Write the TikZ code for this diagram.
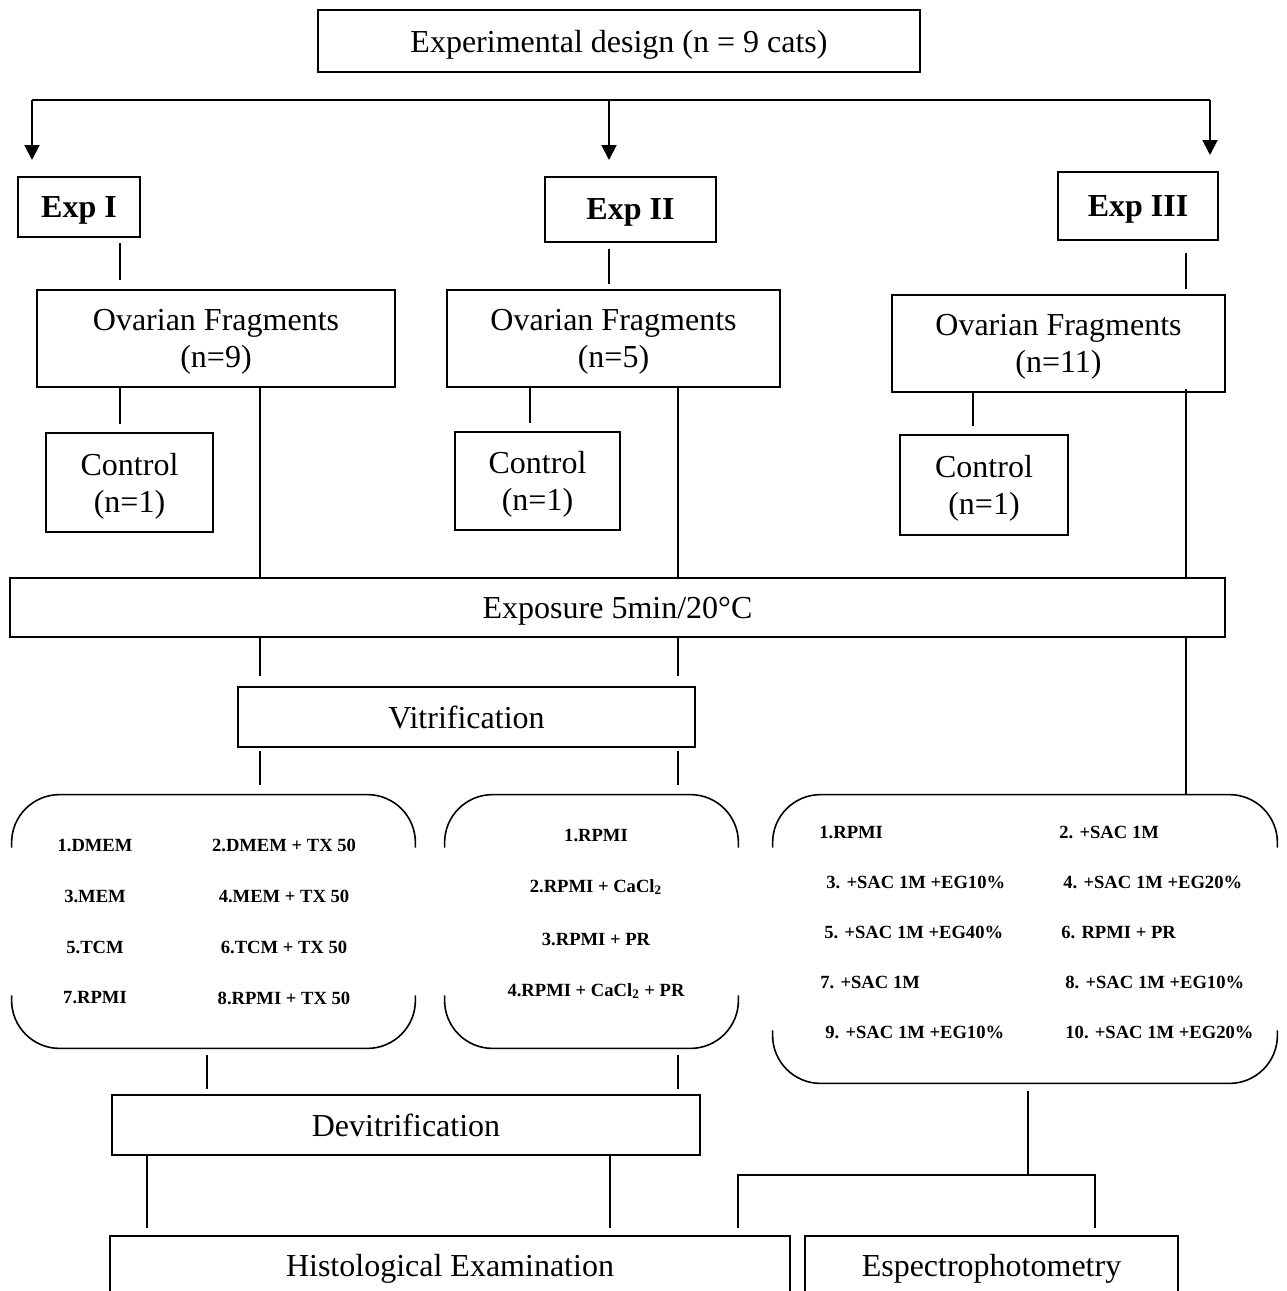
\documentclass[tikz,border=0pt]{standalone}
\usepackage{fontspec}
\setmainfont{Liberation Serif}
\usetikzlibrary{arrows.meta}

\begin{document}
\begin{tikzpicture}[x=0.5pt, y=-0.5pt,
    box/.style={draw, line width=1pt, align=center, inner sep=0pt, text depth=0pt, font=\fontsize{16}{18.5}\selectfont},
    expbox/.style={box, font=\fontsize{16}{18.5}\selectfont\bfseries},
    link/.style={line width=.6pt},
    bar/.style={line width=1pt},
    medbox/.style={inner sep=0pt},
    brk/.style={line width=.8pt, rounded corners=24pt},
    medium/.style={inner sep=0pt, font=\fontsize{9.3}{11}\selectfont\bfseries}]
  \clip (0,0) rectangle (1286,1291);

  \node[box, line width=.7pt, minimum width=301pt, minimum height=31pt] (design) at (619,41) {Experimental design (n = 9 cats)};

  \node[expbox, minimum width=61pt, minimum height=30pt] (exp1) at (79,207) {Exp I};
  \node[expbox, minimum width=85.5pt, minimum height=32.5pt] (exp2) at (630.5,209.5) {Exp II};
  \node[expbox, minimum width=80pt, minimum height=34pt] (exp3) at (1138,206) {Exp III};

  \node[box, minimum width=179pt, minimum height=48.5pt] (of1) at (216,338.5) {Ovarian Fragments\\(n=9)};
  \node[box, minimum width=166.5pt, minimum height=48.5pt] (of2) at (613.5,338.5) {Ovarian Fragments\\(n=5)};
  \node[box, minimum width=166.5pt, minimum height=48.5pt] (of3) at (1058.5,343.5) {Ovarian Fragments\\(n=11)};

  \node[box, minimum width=83.5pt, minimum height=49.5pt] (ctl1) at (129.5,482.5) {Control\\(n=1)};
  \node[box, minimum width=82.5pt, minimum height=49pt] (ctl2) at (537.5,481) {Control\\(n=1)};
  \node[box, minimum width=84pt, minimum height=50pt] (ctl3) at (984,485) {Control\\(n=1)};

  \node[box, minimum width=607.5pt, minimum height=29.5pt] (expo) at (617.5,607.5) {Exposure 5min/20°C};
  \node[box, minimum width=228.5pt, minimum height=30pt] (vitri) at (466.5,717) {Vitrification};

  \node[medbox, minimum width=201.5pt, minimum height=126.5pt] (med1) at (213.5,921.5) {};
  \node[medbox, minimum width=146.5pt, minimum height=126.5pt] (med2) at (591.5,921.5) {};
  \node[medbox, minimum width=252pt, minimum height=144pt] (med3) at (1025,939) {};
  \foreach \m in {med1,med2,med3}
    \draw[brk] ([yshift=-26.5pt]\m.north west) -- (\m.north west) -- (\m.north east) -- ([yshift=-26.5pt]\m.north east)
               ([yshift=26.5pt]\m.south west) -- (\m.south west) -- (\m.south east) -- ([yshift=26.5pt]\m.south east);

  \foreach \a/\b [count=\i] in {1.DMEM/2.DMEM + TX 50, 3.MEM/4.MEM + TX 50, 5.TCM/6.TCM + TX 50, 7.RPMI/8.RPMI + TX 50} {
    \node[medium] (m1a\i) at (95,{794+51*\i}) {\a};
    \node[medium] (m1b\i) at (284,{794+51*\i}) {\b};
  }
  \foreach \a [count=\i] in {1.RPMI, 2.RPMI + CaCl\textsubscript{2}, 3.RPMI + PR, 4.RPMI + CaCl\textsubscript{2} + PR}
    \node[medium] (m2\i) at (596,{783+52*\i}) {\a};
  \foreach \xa/\a/\xb/\b [count=\i] in {819/1.RPMI/1059/2. +SAC 1M,
      826/3. +SAC 1M +EG10\%/1063/4. +SAC 1M +EG20\%,
      824/5. +SAC 1M +EG40\%/1061/6. RPMI + PR,
      820/7. +SAC 1M/1065/8. +SAC 1M +EG10\%,
      825/9. +SAC 1M +EG10\%/1065/10. +SAC 1M +EG20\%} {
    \node[medium, anchor=west] (m3a\i) at (\xa,{782+50*\i}) {\a};
    \node[medium, anchor=west] (m3b\i) at (\xb,{782+50*\i}) {\b};
  }

  \node[box, minimum width=294pt, minimum height=30pt] (devit) at (406,1125) {Devitrification};
  \node[box, anchor=north, minimum width=340pt, text height=11pt, text depth=40pt, inner ysep=9pt] (hist) at (450,1235) {Histological Examination};
  \node[box, anchor=north, minimum width=186.5pt, text height=11pt, text depth=40pt, inner ysep=9pt] (spectro) at (991.5,1235) {Espectrophotometry};

  \coordinate (barL) at (32,100);
  \coordinate (barM) at (609,100);
  \coordinate (barR) at (1210,100);
  \coordinate (colA) at (120,0);
  \coordinate (colB) at (260,0);
  \coordinate (colD) at (530,0);
  \coordinate (colE) at (678,0);
  \coordinate (colF) at (1186,0);
  \coordinate (colG) at (973,0);
  \coordinate (colH) at (207,0);
  \coordinate (colI) at (147,0);
  \coordinate (colJ) at (610,0);
  \coordinate (colK) at (1028,0);
  \coordinate (splitL) at (738,1175);
  \coordinate (splitR) at (1095,1175);

  \draw[bar] (barL) -- (barR);
  \foreach \c/\e in {barL/exp1, barM/exp2, barR/exp3}
    \draw[bar, -{Triangle[length=7.5pt, width=7.5pt]}, shorten >=8pt] (\c) -- (\c |- \e.north);

  \draw[link, shorten <=2.5pt, shorten >=4.5pt] (exp1.south -| colA) -- (of1.north -| colA);
  \draw[link, shorten <=3pt, shorten >=2.5pt] (exp2.south -| barM) -- (of2.north -| barM);
  \draw[link, shorten <=6pt, shorten >=2.5pt] (exp3.south -| colF) -- (of3.north -| colF);

  \draw[link, shorten >=4pt] (of1.south -| colA) -- (ctl1.north -| colA);
  \draw[link, shorten >=4pt] (of2.south -| colD) -- (ctl2.north -| colD);
  \draw[link, shorten >=4pt] (of3.south -| colG) -- (ctl3.north -| colG);

  \draw[link] (of1.south -| colB) -- (expo.north -| colB);
  \draw[link] (of2.south -| colE) -- (expo.north -| colE);
  \draw[link, shorten <=-2pt] (of3.south -| colF) -- (expo.north -| colF);

  \draw[link, shorten >=5pt] (expo.south -| colB) -- (vitri.north -| colB);
  \draw[link, shorten >=5pt] (expo.south -| colE) -- (vitri.north -| colE);
  \draw[link, shorten <=1.5pt, shorten >=5pt] (vitri.south -| colB) -- (med1.north -| colB);
  \draw[link, shorten <=1.5pt, shorten >=5pt] (vitri.south -| colE) -- (med2.north -| colE);
  \draw[link] (expo.south -| colF) -- (med3.north -| colF);

  \draw[link, shorten <=3.5pt, shorten >=2.5pt] (med1.south -| colH) -- (devit.north -| colH);
  \draw[link, shorten <=3.5pt, shorten >=2.5pt] (med2.south -| colE) -- (devit.north -| colE);
  \draw[link, shorten >=3.5pt] (devit.south -| colI) -- (hist.north -| colI);
  \draw[link, shorten >=3.5pt] (devit.south -| colJ) -- (hist.north -| colJ);

  \draw[link, shorten <=4pt] (med3.south -| colK) -- (colK |- splitL);
  \draw[link, shorten <=3.5pt, shorten >=3.5pt] (hist.north -| splitL) -- (splitL) -- (splitR) -- (spectro.north -| splitR);
\end{tikzpicture}
\end{document}
